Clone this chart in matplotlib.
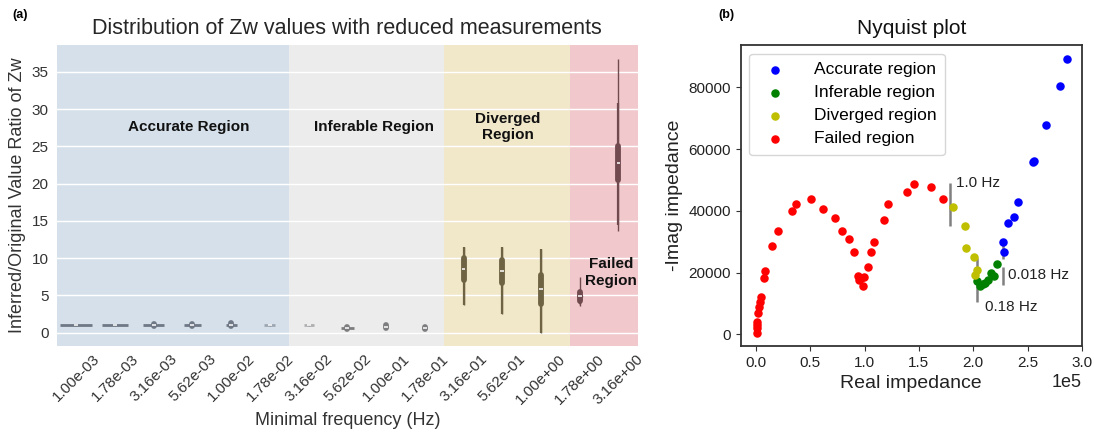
import numpy as np
import matplotlib
matplotlib.use('Agg')
import matplotlib.pyplot as plt

plt.rcParams['font.family'] = ['Liberation Sans', 'DejaVu Sans']

# ---- panel (a): Zw ratio per minimal frequency ----
freq_labels = ['1.00e-03', '1.78e-03', '3.16e-03', '5.62e-03', '1.00e-02',
               '1.78e-02', '3.16e-02', '5.62e-02', '1.00e-01', '1.78e-01',
               '3.16e-01', '5.62e-01', '1.00e+00', '1.78e+00', '3.16e+00']
region_idx = [0, 0, 0, 0, 0, 0, 1, 1, 1, 1, 2, 2, 2, 3, 3]
region_edges = [-0.5, 5.5, 9.5, 12.75, 14.5]
region_names = ['Accurate Region', 'Inferable Region', 'Diverged\nRegion', 'Failed\nRegion']

ratio_med = [1.02, 1.02, 1.0, 1.0, 1.05, 1.0, 1.0, 0.6, 0.8, 0.65, 8.6, 8.27, 5.8, 4.9, 22.7]
ratio_q1 = [1.02, 1.02, 0.85, 0.85, 0.9, 0.98, 0.98, 0.5, 0.62, 0.5, 7.07, 6.6, 3.8, 4.3, 20.5]
ratio_q3 = [1.02, 1.02, 1.15, 1.15, 1.25, 1.02, 1.02, 0.7, 0.98, 0.8, 9.97, 9.75, 7.74, 5.4, 25.0]
ratio_wlo = [1.0, 1.0, 0.8, 0.75, 0.8, 0.95, 0.95, 0.45, 0.55, 0.45, 3.7, 2.5, -0.1, 3.9, 14.5]
ratio_whi = [1.04, 1.04, 1.2, 1.25, 1.3, 1.05, 1.05, 0.75, 1.05, 0.85, 11.45, 11.5, 11.2, 5.6, 30.8]
ratio_lo = [1.0, 1.0, 0.8, 0.75, 0.8, 0.95, 0.95, 0.45, 0.55, 0.45, 3.7, 2.5, -0.1, 3.6, 13.7]
ratio_hi = [1.04, 1.04, 1.2, 1.25, 1.3, 1.05, 1.05, 0.75, 1.05, 0.85, 11.45, 11.5, 11.2, 7.5, 36.7]
body_width = [0.82, 0.69, 0.54, 0.44, 0.28, 0.28, 0.26, 0.34, 0.12, 0.12, 0.0, 0.0, 0.0, 0.16, 0.0]

span_colors = ['#d6e0ea', '#ececec', '#f1e7c9', '#f1c9cc']
violin_colors = ['#6e7886', '#7d7d80', '#6e6343', '#714a4f']

# ---- panel (b): Nyquist data ----
acc_re = [2.28e5, 2.276e5, 2.316e5, 2.374e5, 2.414e5, 2.545e5, 2.56e5, 2.665e5, 2.80e5, 2.858e5]
acc_im = [26600, 30000, 36100, 37900, 42700, 55900, 56200, 67800, 80500, 89100]
inf_re = [2.03e5, 2.06e5, 2.086e5, 2.107e5, 2.137e5, 2.159e5, 2.193e5, 2.22e5]
inf_im = [17300, 15700, 16300, 16700, 17600, 19700, 18900, 22800]
div_re = [1.815e5, 1.926e5, 1.935e5, 2.006e5, 2.037e5, 2.015e5]
div_im = [41100, 35100, 28100, 24900, 20800, 19200]
fail_re = [600, 700, 1200, 1500, 2000, 2800, 3600, 4500, 7700, 8300, 15000, 20500,
           33700, 36500, 50900, 62000, 72700, 79700, 85900, 90500, 94000, 95000, 96500,
           99400, 98800, 103300, 105800, 108900, 118000, 121700, 139000, 145600, 161000, 172000]
fail_im = [500, 1900, 3000, 4100, 6800, 8700, 10600, 12200, 18100, 20600, 28600, 33400,
           40000, 42300, 43900, 40600, 37600, 33400, 30900, 26800, 18900, 17600, 18200,
           18700, 15600, 21900, 26800, 30000, 37000, 42100, 46200, 48600, 47800, 43800]

fig = plt.figure(figsize=(10.94, 4.32), dpi=100)

# (a) distribution panel
ax = fig.add_axes([0.052, 0.199, 0.531, 0.697])
ax.set_facecolor('#eaeaf2')
for r in range(4):
    ax.axvspan(region_edges[r], region_edges[r + 1], color=span_colors[r], lw=0, zorder=0)
ax.set_axisbelow(True)
ax.yaxis.grid(True, color='white', lw=1.0)
ax.xaxis.grid(False)
for s in ax.spines.values():
    s.set_visible(False)

x = np.arange(len(freq_labels))
for i in x:
    c = violin_colors[region_idx[i]]
    a = 0.55 if i in (5, 6) else 1.0
    if body_width[i] > 0:
        if i == 13:
            ax.fill_betweenx([ratio_lo[i], ratio_med[i], ratio_q3[i] + 0.4],
                             [i, i - body_width[i] / 2, i],
                             [i, i + body_width[i] / 2, i], color=c, lw=0, zorder=2)
        else:
            ax.hlines(ratio_med[i], i - body_width[i] / 2, i + body_width[i] / 2,
                      color=c, lw=2, alpha=a, zorder=2)
    ax.vlines(i, ratio_lo[i], ratio_hi[i], color=c, lw=1.0, alpha=a, zorder=3)
    ax.vlines(i, ratio_wlo[i], ratio_whi[i], color=c, lw=1.6, alpha=a, zorder=3)
    ax.plot([i, i], [ratio_q1[i], ratio_q3[i]], color=c, lw=4.2, alpha=a,
            solid_capstyle='round', zorder=4)
    ax.hlines(ratio_med[i], i - 0.05, i + 0.05, color='white', lw=1.1, zorder=5)

ax.set_xlim(-0.5, 14.5)
ax.set_ylim(-1.8, 38.6)
ax.set_xticks(x)
ax.set_xticklabels(freq_labels, rotation=45, fontsize=11, color='#333333')
ax.set_yticks(np.arange(0, 36, 5))
ax.tick_params(axis='y', labelsize=11, labelcolor='#333333', length=0, pad=6)
ax.tick_params(axis='x', length=0, pad=4)
ax.set_xlabel('Minimal frequency (Hz)', fontsize=13, color='#333333')
ax.set_ylabel('Inferred/Original Value Ratio of Zw', fontsize=13, color='#333333')
ax.set_title('Distribution of Zw values with reduced measurements', fontsize=15.5,
             color='#262626', pad=8)

label_pos = [(2.9, 27.6), (7.7, 27.6), (11.15, 27.6), (13.8, 8.1)]
for name, (lx, ly) in zip(region_names, label_pos):
    ax.text(lx, ly, name, ha='center', va='center', fontsize=11, fontweight='bold',
            color='#111111', linespacing=1.25)

fig.text(0.011, 0.965, '(a)', fontsize=9, fontweight='bold', va='center')

# (b) Nyquist panel
bx = fig.add_axes([0.677, 0.199, 0.312, 0.697])
bx.scatter(acc_re, acc_im, s=26, color='b', label='Accurate region', zorder=3)
bx.scatter(inf_re, inf_im, s=26, color='g', label='Inferable region', zorder=3)
bx.scatter(div_re, div_im, s=26, color='y', label='Diverged region', zorder=3)
bx.scatter(fail_re, fail_im, s=26, color='r', label='Failed region', zorder=3)

bx.vlines(1.79e5, 35100, 49100, color='gray', lw=1.8, zorder=2)
bx.text(1.84e5, 48900, '1.0 Hz', fontsize=11, va='center', color='#222222')
bx.vlines(2.03e5, 10400, 24600, color='gray', lw=1.8, zorder=2)
bx.text(2.105e5, 8900, '0.18 Hz', fontsize=11, va='center', color='#222222')
bx.vlines(2.276e5, 24300, 29500, color='gray', lw=1.8, zorder=2)
bx.vlines(2.276e5, 16000, 21900, color='gray', lw=1.8, zorder=2)
bx.text(2.32e5, 19200, '0.018 Hz', fontsize=11, va='center', color='#222222')

bx.set_xlim(-0.14e5, 3.0e5)
bx.set_ylim(-3800, 93700)
bx.set_xticks(np.arange(0, 3.01e5, 0.5e5))
bx.ticklabel_format(axis='x', style='sci', scilimits=(0, 0))
bx.xaxis.get_offset_text().set_fontsize(13)
bx.set_yticks(np.arange(0, 80001, 20000))
bx.tick_params(labelsize=11, color='#333333', labelcolor='#222222')
for s in bx.spines.values():
    s.set_color('#333333')
    s.set_linewidth(1.3)
bx.set_xlabel('Real impedance', fontsize=14, color='#222222')
bx.set_ylabel('-Imag impedance', fontsize=14, color='#222222')
bx.set_title('Nyquist plot', fontsize=15, color='#111111', pad=8)
bx.legend(loc='upper left', fontsize=12.5, scatterpoints=1, handletextpad=1.2,
          borderpad=0.5, labelspacing=0.45)

fig.text(0.657, 0.965, '(b)', fontsize=9, fontweight='bold', va='center')

fig.savefig('out.png', dpi=100)
